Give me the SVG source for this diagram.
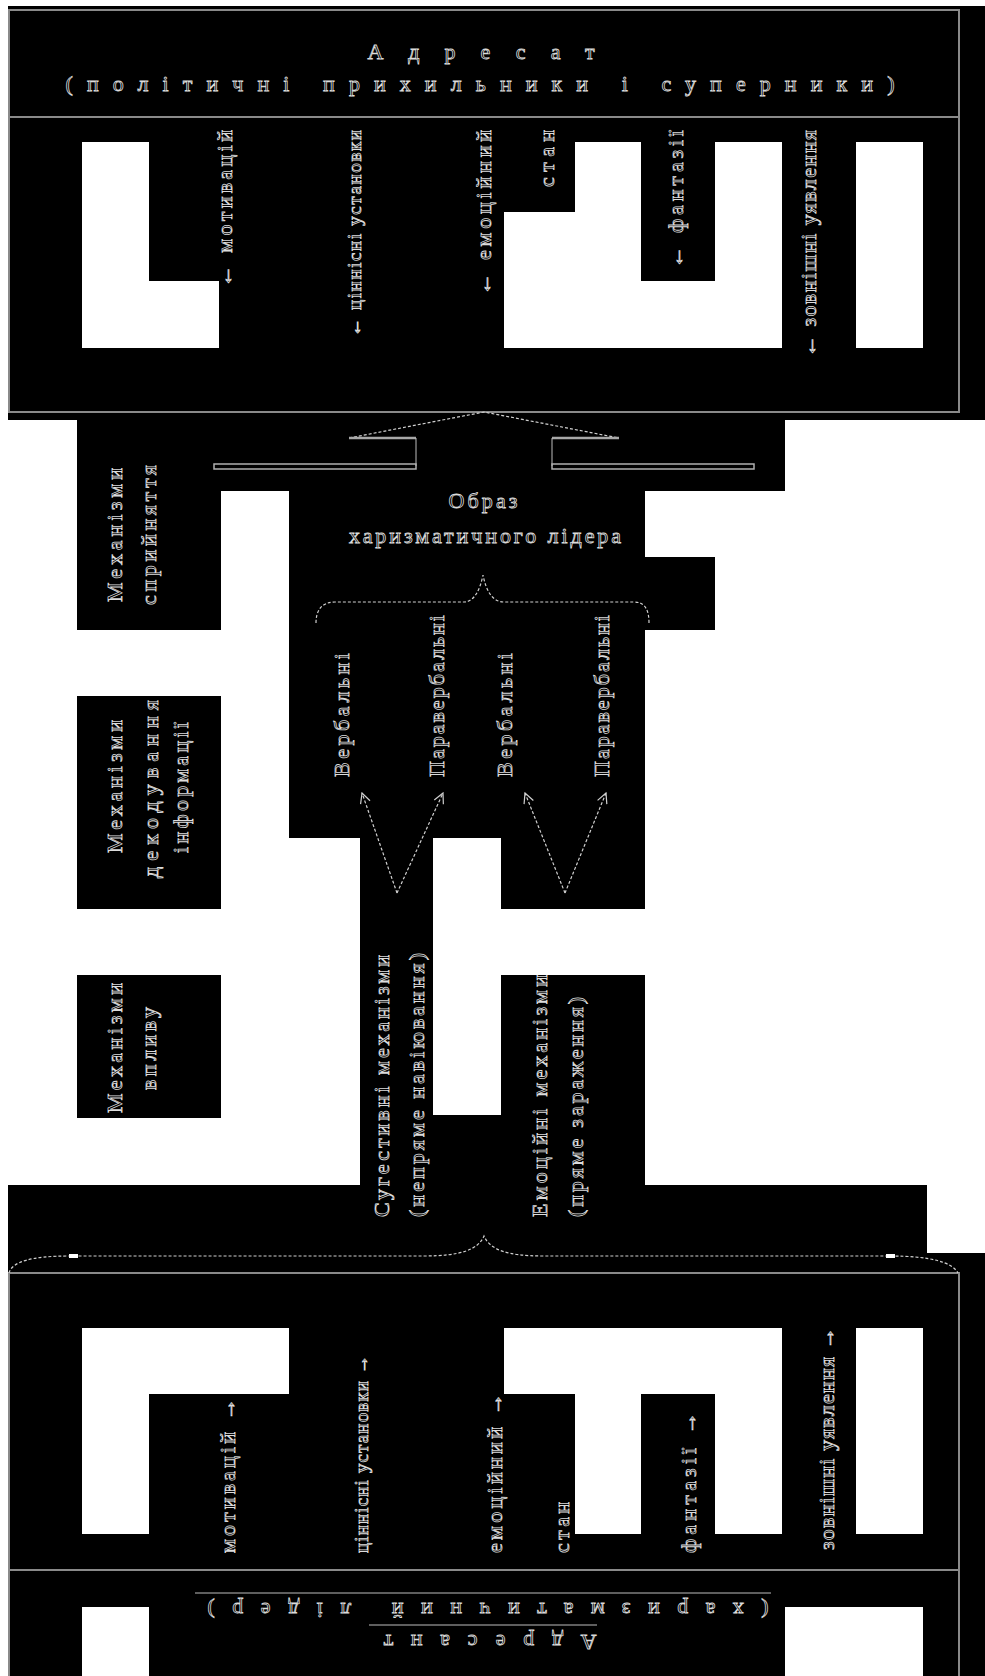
<svg xmlns="http://www.w3.org/2000/svg" width="985" height="1676" viewBox="0 0 985 1676">
<defs>
<style>
.bk{fill:#000}
.wh{fill:#fff}
.t{font-family:"Liberation Serif","DejaVu Serif",serif;font-size:22px;fill:none;stroke:#dcdcdc;stroke-width:0.8}
.s{font-size:19px}
.bd{stroke:#8a8a8a;stroke-width:2;fill:none}
.bar{stroke:#b0b0b0;stroke-width:1.5;fill:none}
.ln{stroke:#bdbdbd;stroke-width:1;fill:none}
.dl{stroke:#d0d0d0;stroke-width:1.2;fill:none;stroke-dasharray:3 2}
</style>
<marker id="ah" viewBox="0 0 12 12" refX="11" refY="6" markerWidth="12" markerHeight="12" markerUnits="userSpaceOnUse" orient="auto"><path d="M1,1 L11,6 L1,11" fill="none" stroke="#d0d0d0" stroke-width="1.2"/></marker>
</defs>
<rect x="0" y="0" width="985" height="1676" fill="#fff"/>
<g id="background">
<rect class="bk" x="8" y="6" width="977" height="414"/>
<rect class="bk" x="77" y="420" width="708" height="71"/>
<rect class="bk" x="77" y="491" width="144" height="139"/>
<rect class="bk" x="289" y="491" width="356" height="347"/>
<rect class="bk" x="645" y="557" width="70" height="73"/>
<rect class="bk" x="77" y="696" width="144" height="213"/>
<rect class="bk" x="77" y="975" width="144" height="143"/>
<rect class="bk" x="360" y="838" width="73" height="347"/>
<rect class="bk" x="501" y="838" width="144" height="71"/>
<rect class="bk" x="501" y="975" width="144" height="210"/>
<rect class="bk" x="433" y="1115" width="68" height="70"/>
<rect class="bk" x="8" y="1185" width="919" height="68"/>
<rect class="bk" x="8" y="1253" width="977" height="423"/>
<rect class="wh" x="82" y="142" width="67" height="206"/>
<rect class="wh" x="149" y="281" width="70" height="67"/>
<rect class="wh" x="504" y="212" width="71" height="136"/>
<rect class="wh" x="575" y="142" width="66" height="206"/>
<rect class="wh" x="641" y="281" width="74" height="67"/>
<rect class="wh" x="715" y="142" width="67" height="206"/>
<rect class="wh" x="856" y="142" width="67" height="206"/>
<rect class="wh" x="82" y="1328" width="67" height="206"/>
<rect class="wh" x="149" y="1328" width="140" height="66"/>
<rect class="wh" x="504" y="1328" width="71" height="66"/>
<rect class="wh" x="575" y="1328" width="66" height="206"/>
<rect class="wh" x="641" y="1328" width="74" height="66"/>
<rect class="wh" x="715" y="1328" width="67" height="206"/>
<rect class="wh" x="856" y="1328" width="67" height="206"/>
<rect class="wh" x="82" y="1607" width="67" height="69"/>
<rect class="wh" x="785" y="1607" width="138" height="69"/>
</g>
<g id="node-adresat">
<rect class="bd" x="9" y="10" width="950" height="402"/>
<line class="bd" x1="9" y1="117" x2="959" y2="117"/>
<text class="t" x="481" y="59" text-anchor="middle" textLength="227" lengthAdjust="spacing">Адресат</text>
<text class="t" x="480" y="91" text-anchor="middle" textLength="829" lengthAdjust="spacing">(політичні прихильники і суперники)</text>
<text class="t" transform="translate(226,287) rotate(-90)" x="0" y="6" textLength="157" lengthAdjust="spacing">← мотивацій</text>
<text class="t s" transform="translate(355,337) rotate(-90)" x="0" y="6" textLength="207" lengthAdjust="spacing">← ціннісні установки</text>
<text class="t" transform="translate(485,295) rotate(-90)" x="0" y="6" textLength="165" lengthAdjust="spacing">← емоційний</text>
<text class="t" transform="translate(548,187) rotate(-90)" x="0" y="6" textLength="57" lengthAdjust="spacing">стан</text>
<text class="t" transform="translate(677,268) rotate(-90)" x="0" y="6" textLength="138" lengthAdjust="spacing">← фантазії</text>
<text class="t" transform="translate(810,357) rotate(-90)" x="0" y="6" textLength="227" lengthAdjust="spacing">← зовнішні уявлення</text>
</g>
<g id="node-image">
<text class="t" x="483" y="508" text-anchor="middle" textLength="69" lengthAdjust="spacing">Образ</text>
<text class="t" x="485" y="543" text-anchor="middle" textLength="272" lengthAdjust="spacing">харизматичного лідера</text>
</g>
<g id="node-verbal-1"><text class="t" transform="translate(343,777) rotate(-90)" x="0" y="6" textLength="124" lengthAdjust="spacing">Вербальні</text></g>
<g id="node-paraverbal-1"><text class="t" transform="translate(438,777) rotate(-90)" x="0" y="6" textLength="162" lengthAdjust="spacing">Паравербальні</text></g>
<g id="node-verbal-2"><text class="t" transform="translate(506,777) rotate(-90)" x="0" y="6" textLength="124" lengthAdjust="spacing">Вербальні</text></g>
<g id="node-paraverbal-2"><text class="t" transform="translate(603,777) rotate(-90)" x="0" y="6" textLength="162" lengthAdjust="spacing">Паравербальні</text></g>
<g id="node-perception">
<text class="t" transform="translate(116,602) rotate(-90)" x="0" y="6" textLength="134" lengthAdjust="spacing">Механізми</text>
<text class="t" transform="translate(150,605) rotate(-90)" x="0" y="6" textLength="140" lengthAdjust="spacing">сприйняття</text>
</g>
<g id="node-decoding">
<text class="t" transform="translate(116,853) rotate(-90)" x="0" y="6" textLength="133" lengthAdjust="spacing">Механізми</text>
<text class="t" transform="translate(152,878) rotate(-90)" x="0" y="6" textLength="178" lengthAdjust="spacing">декодування</text>
<text class="t" transform="translate(182,853) rotate(-90)" x="0" y="6" textLength="131" lengthAdjust="spacing">інформації</text>
</g>
<g id="node-influence">
<text class="t" transform="translate(116,1113) rotate(-90)" x="0" y="6" textLength="130" lengthAdjust="spacing">Механізми</text>
<text class="t" transform="translate(150,1090) rotate(-90)" x="0" y="6" textLength="83" lengthAdjust="spacing">впливу</text>
</g>
<g id="node-suggestive">
<text class="t" transform="translate(383,1217) rotate(-90)" x="0" y="6" textLength="262" lengthAdjust="spacing">Сугестивні механізми</text>
<text class="t" transform="translate(418,1217) rotate(-90)" x="0" y="6" textLength="264" lengthAdjust="spacing">(непряме навіювання)</text>
</g>
<g id="node-emotional">
<text class="t" transform="translate(541,1217) rotate(-90)" x="0" y="6" textLength="242" lengthAdjust="spacing">Емоційні механізми</text>
<text class="t" transform="translate(577,1217) rotate(-90)" x="0" y="6" textLength="220" lengthAdjust="spacing">(пряме зараження)</text>
</g>
<g id="node-adresant">
<path class="bd" d="M9,1676 V1273 H959 V1676"/>
<line class="bd" x1="9" y1="1570" x2="959" y2="1570"/>
<text class="t" transform="translate(229,1553) rotate(-90)" x="0" y="6" textLength="155" lengthAdjust="spacing">мотивацій →</text>
<text class="t s" transform="translate(362,1553) rotate(-90)" x="0" y="6" textLength="198" lengthAdjust="spacing">ціннісні установки →</text>
<text class="t" transform="translate(496,1553) rotate(-90)" x="0" y="6" textLength="160" lengthAdjust="spacing">емоційний →</text>
<text class="t" transform="translate(563,1553) rotate(-90)" x="0" y="6" textLength="51" lengthAdjust="spacing">стан</text>
<text class="t" transform="translate(690,1553) rotate(-90)" x="0" y="6" textLength="141" lengthAdjust="spacing">фантазії →</text>
<text class="t" transform="translate(828,1550) rotate(-90)" x="0" y="6" textLength="223" lengthAdjust="spacing">зовнішні уявлення →</text>
<line class="ln" x1="195" y1="1593" x2="771" y2="1593"/>
<line class="ln" x1="369" y1="1625" x2="597" y2="1625"/>
<text class="t" transform="rotate(180 488 1608)" x="488" y="1613" text-anchor="middle" textLength="561" lengthAdjust="spacing">(харизматичний лідер)</text>
<text class="t" transform="rotate(180 490 1642)" x="490" y="1649" text-anchor="middle" textLength="213" lengthAdjust="spacing">Адресант</text>
</g>
<g id="connectors">
<polyline class="dl" points="349,438 484,412 619,438"/>
<line x1="349" y1="438" x2="416" y2="438" stroke="#a8a8a8" stroke-width="2.5"/>
<line x1="552" y1="438" x2="619" y2="438" stroke="#a8a8a8" stroke-width="2.5"/>
<line class="ln" x1="416" y1="438" x2="416" y2="466"/>
<line class="ln" x1="552" y1="438" x2="552" y2="466"/>
<rect class="bar" x="214" y="464" width="202" height="5"/>
<rect class="bar" x="552" y="464" width="202" height="5"/>
<path class="dl" d="M316,623 C316,610 322,602 335,602 L464,602 C474,602 480,590 483,575 C486,590 492,602 504,602 L634,602 C645,602 649,610 649,623"/>
<line class="dl" x1="397" y1="893" x2="362" y2="793" marker-end="url(#ah)"/>
<line class="dl" x1="397" y1="893" x2="443" y2="793" marker-end="url(#ah)"/>
<line class="dl" x1="565" y1="893" x2="525" y2="793" marker-end="url(#ah)"/>
<line class="dl" x1="565" y1="893" x2="606" y2="793" marker-end="url(#ah)"/>
<path class="dl" d="M9,1273 C12,1262 30,1256 70,1256 L424,1256 C460,1256 478,1250 484,1236 C490,1250 508,1256 543,1256 L890,1256 C930,1256 952,1262 958,1273"/>
<rect x="69" y="1254" width="9" height="4" fill="#fff"/>
<rect x="886" y="1254" width="9" height="4" fill="#fff"/>
</g>
</svg>
